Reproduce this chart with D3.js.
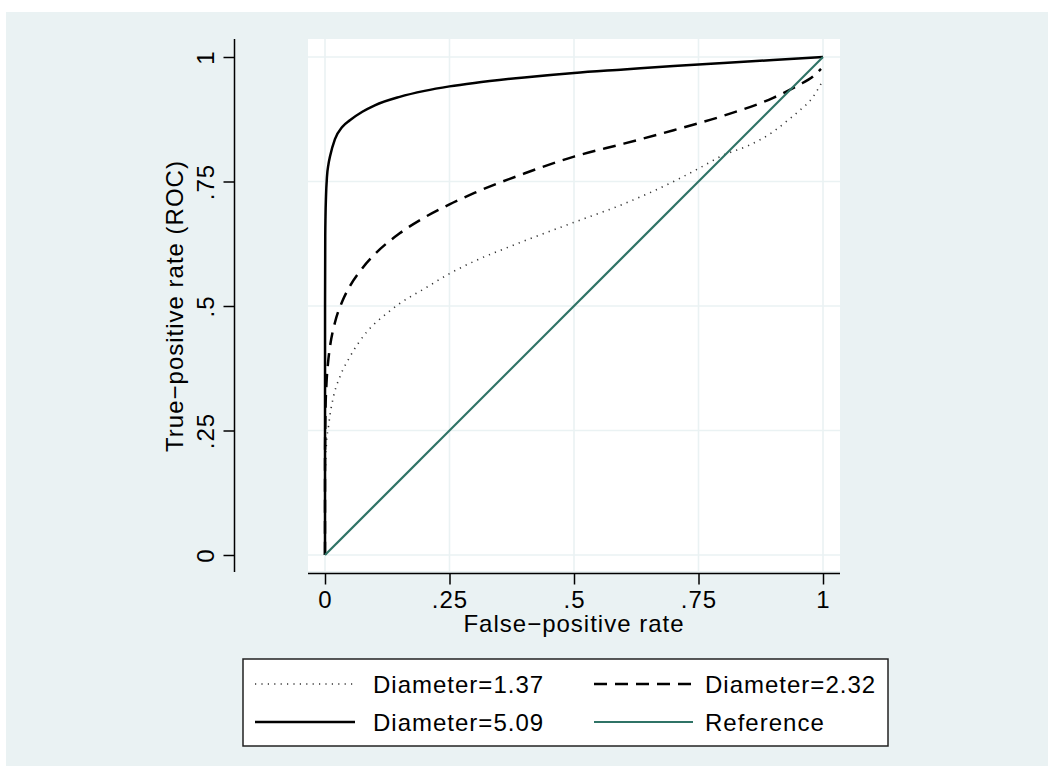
<!DOCTYPE html>
<html>
<head>
<meta charset="utf-8">
<script src="https://cdn.jsdelivr.net/npm/d3@7"></script>
<style>
  body { margin: 0; background: #ffffff; }
  svg { display: block; font-family: "Liberation Sans", Arial, Helvetica, sans-serif; }
</style>
</head>
<body>
<script>
// ROC curves: [false-positive rate, true-positive rate]
var roc137 = [[0,0],[0.0002,0.12],[0.001,0.18],[0.003,0.225],[0.007,0.258],[0.01,0.281],[0.017,0.318],
  [0.03,0.358],[0.05,0.398],[0.084,0.448],[0.124,0.485],[0.15,0.505],[0.2,0.535],[0.25,0.565],[0.3,0.59],
  [0.378,0.622],[0.5,0.668],[0.6,0.705],[0.7,0.75],[0.75,0.776],[0.8,0.803],[0.85,0.822],[0.9,0.85],
  [0.932,0.875],[0.95,0.89],[0.98,0.92],[0.997,0.948]];
var roc232 = [[0,0],[0.0001,0.2],[0.001,0.29],[0.003,0.345],[0.006,0.385],[0.01,0.418],[0.02,0.467],
  [0.035,0.51],[0.05,0.54],[0.075,0.576],[0.1,0.604],[0.15,0.646],[0.2,0.678],[0.25,0.704],[0.3,0.727],
  [0.4,0.766],[0.5,0.8],[0.6,0.826],[0.7,0.853],[0.8,0.882],[0.9,0.918],[0.95,0.943],[0.98,0.961],
  [0.996,0.976]];
var roc509 = [[0,0],[0.0001,0.5],[0.0005,0.64],[0.001,0.68],[0.002,0.72],[0.004,0.76],[0.007,0.785],
  [0.01,0.80],[0.02,0.835],[0.035,0.86],[0.05,0.873],[0.075,0.89],[0.1,0.903],[0.15,0.92],[0.2,0.932],
  [0.25,0.941],[0.3,0.948],[0.4,0.959],[0.5,0.968],[0.6,0.975],[0.7,0.982],[0.8,0.988],[0.9,0.994],[1,1]];
var refLine = [[0,0],[1,1]];

var tickVals = [0, 0.25, 0.5, 0.75, 1];
var tickLabels = ["0", ".25", ".5", ".75", "1"];
var legendLabels = ["Diameter=1.37", "Diameter=2.32", "Diameter=5.09", "Reference"];

const W = 1054, H = 778;
const bg = "#eaf2f3", teal = "#2f7366";
var plot = {left: 308, right: 840, top: 39, bottom: 571};

var svg = d3.select("body").append("svg")
    .attr("width", W)
    .attr("height", H);

svg.append("rect").attr("x", 0).attr("y", 0).attr("width", W).attr("height", H).style("fill", "#ffffff");
svg.append("rect").attr("x", 6).attr("y", 12).attr("width", 1042).attr("height", 754).style("fill", bg);
svg.append("rect")
    .attr("x", plot.left).attr("y", plot.top)
    .attr("width", plot.right - plot.left).attr("height", plot.bottom - plot.top)
    .style("fill", "#ffffff");

var x = d3.scaleLinear().domain([0, 1]).range([325, 823]);
var y = d3.scaleLinear().domain([0, 1]).range([555, 57]);

// grid lines
svg.selectAll(".gx").data(tickVals).enter().append("line")
    .attr("x1", d => x(d)).attr("x2", d => x(d))
    .attr("y1", plot.top).attr("y2", plot.bottom)
    .style("stroke", bg).style("stroke-width", 1.6);
svg.selectAll(".gy").data(tickVals).enter().append("line")
    .attr("x1", plot.left).attr("x2", plot.right)
    .attr("y1", d => y(d)).attr("y2", d => y(d))
    .style("stroke", bg).style("stroke-width", 1.6);

// x axis
var xAxis = d3.axisBottom(x).tickValues(tickVals).tickFormat((d, i) => tickLabels[i])
    .tickSizeInner(11).tickSizeOuter(0).tickPadding(6);
var gx = svg.append("g").attr("transform", "translate(0,573.5)").call(xAxis);
gx.select(".domain").attr("d", "M" + plot.left + ",0H" + plot.right);
gx.selectAll("line, path").style("stroke", "#000").style("stroke-width", 1.5);
gx.selectAll("text").style("font-size", "24px").style("letter-spacing", "1px").style("fill", "#000");

// y axis
var yAxis = d3.axisLeft(y).tickValues(tickVals).tickFormat((d, i) => tickLabels[i])
    .tickSizeInner(11).tickSizeOuter(0).tickPadding(8);
var gy = svg.append("g").attr("transform", "translate(234.5,0)").call(yAxis);
gy.select(".domain").attr("d", "M0," + plot.top + "V" + (plot.bottom + 1));
gy.selectAll("line, path").style("stroke", "#000").style("stroke-width", 1.5);
gy.selectAll("text")
    .style("font-size", "24px").style("letter-spacing", "1px").style("fill", "#000")
    .attr("x", null).attr("dy", null)
    .style("text-anchor", "middle")
    .attr("transform", "translate(-21,0) rotate(-90)");

svg.append("text")
    .attr("x", 574).attr("y", 632)
    .style("text-anchor", "middle").style("font-size", "24px").style("letter-spacing", "1px")
    .text("False\u2212positive rate");
svg.append("text")
    .attr("transform", "translate(183,306) rotate(-90)")
    .style("text-anchor", "middle").style("font-size", "24px").style("letter-spacing", "1px")
    .text("True\u2212positive rate (ROC)");

// curves
var line = d3.line().x(d => x(d[0])).y(d => y(d[1])).curve(d3.curveMonotoneX);

var series = [
  {data: roc137, color: "#333333", width: 1.6, dash: "1.2,5.2"},
  {data: roc232, color: "#000000", width: 2.5, dash: "13,8"},
  {data: roc509, color: "#000000", width: 2.5, dash: null},
  {data: refLine, color: teal, width: 2.2, dash: null}
];

svg.selectAll(".curve").data(series).enter().append("path")
    .attr("class", "curve")
    .attr("d", d => line(d.data))
    .style("fill", "none")
    .style("stroke", d => d.color)
    .style("stroke-width", d => d.width)
    .style("stroke-dasharray", d => d.dash);

// legend
var lg = svg.append("g");
lg.append("rect")
    .attr("x", 243).attr("y", 659).attr("width", 645).attr("height", 87)
    .style("fill", "#ffffff").style("stroke", "#222").style("stroke-width", 1.5);

var cols = [{x1: 255, x2: 355, tx: 373}, {x1: 594, x2: 693, tx: 705}];
var rows = [684, 722];

series.forEach(function(s, i) {
  var c = cols[i % 2], r = rows[Math.floor(i / 2)];
  lg.append("line")
      .attr("x1", c.x1).attr("x2", c.x2).attr("y1", r).attr("y2", r)
      .style("stroke", s.color).style("stroke-width", s.width)
      .style("stroke-dasharray", s.dash);
  lg.append("text")
      .attr("x", c.tx).attr("y", r + 9)
      .style("font-size", "24px").style("letter-spacing", "1px")
      .text(legendLabels[i]);
});
</script>
</body>
</html>
